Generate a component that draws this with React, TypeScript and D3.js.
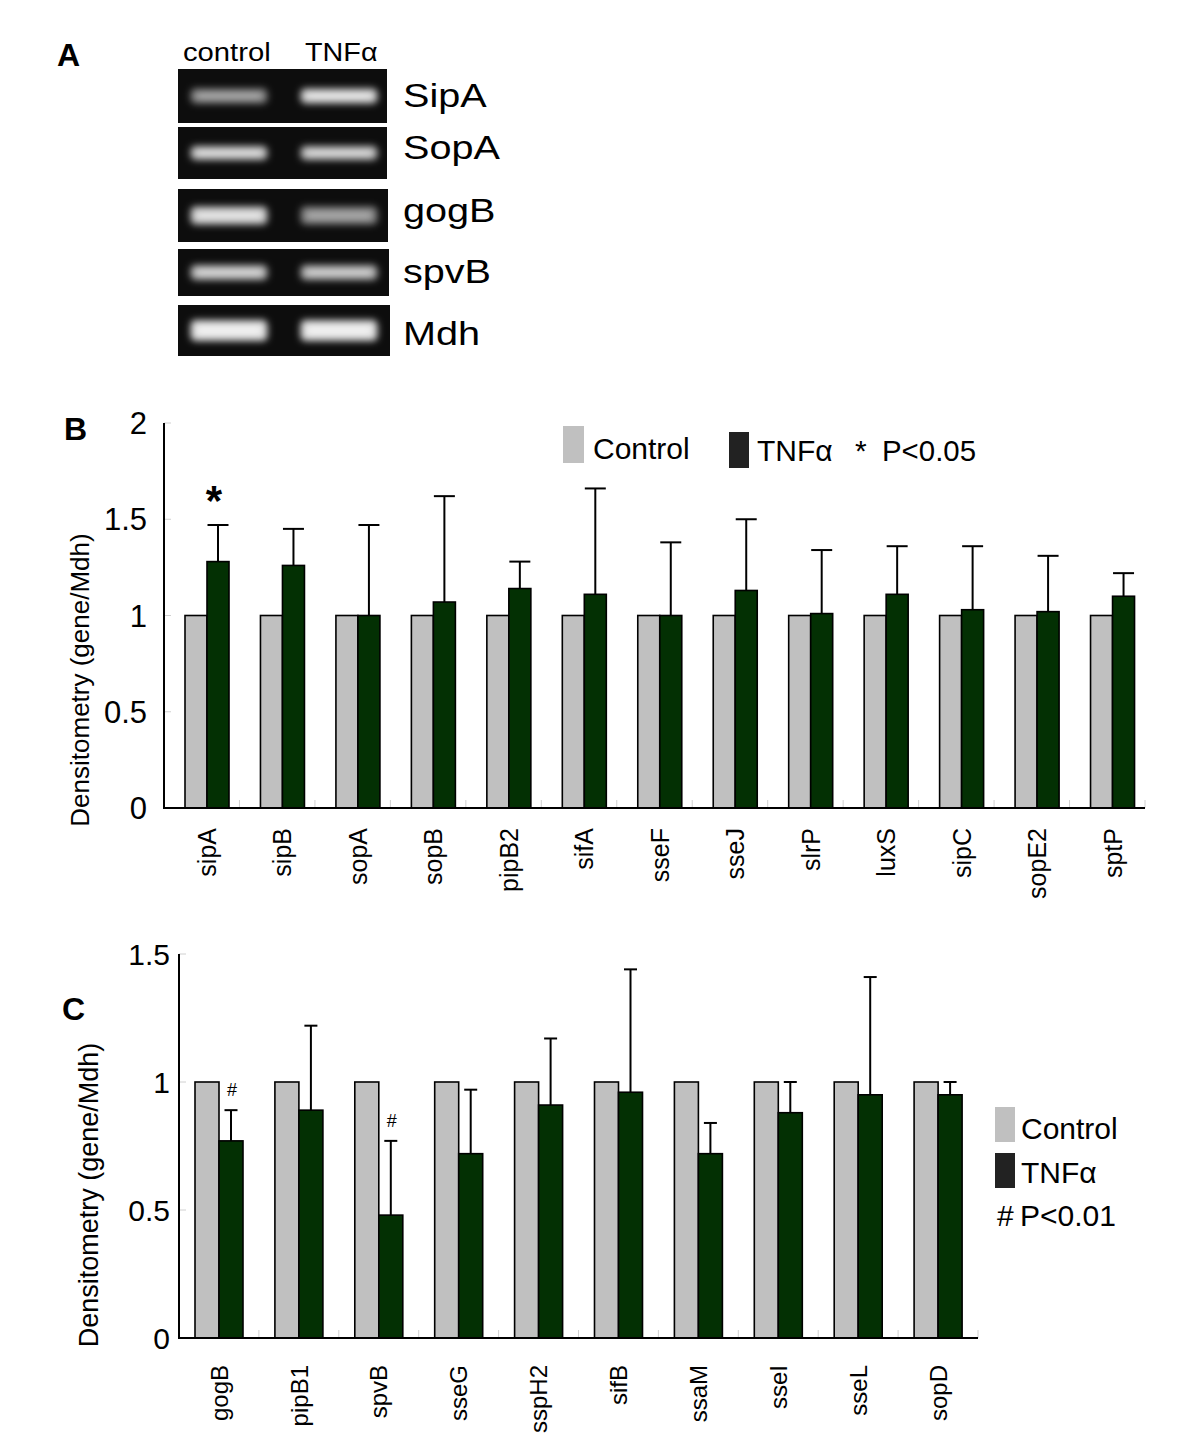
import React from "react";
import * as d3 from "d3";

const genesB = ["sipA","sipB","sopA","sopB","pipB2","sifA","sseF","sseJ","slrP","luxS","sipC","sopE2","sptP"];
const controlB = [1,1,1,1,1,1,1,1,1,1,1,1,1];
const tnfB = [1.28,1.26,1.0,1.07,1.14,1.11,1.0,1.13,1.01,1.11,1.03,1.02,1.10];
const errB = [0.19,0.19,0.47,0.55,0.14,0.55,0.38,0.37,0.33,0.25,0.33,0.29,0.12];
const sigB = ["sipA"];
const ticksB = [0,0.5,1,1.5,2];
const tickLabelsB = ["0","0.5","1","1.5","2"];

const genesC = ["gogB","pipB1","spvB","sseG","sspH2","sifB","ssaM","sseI","sseL","sopD"];
const controlC = [1,1,1,1,1,1,1,1,1,1];
const tnfC = [0.77,0.89,0.48,0.72,0.91,0.96,0.72,0.88,0.95,0.95];
const errC = [0.12,0.33,0.29,0.25,0.26,0.48,0.12,0.12,0.46,0.05];
const sigC = ["gogB","spvB"];
const ticksC = [0,0.5,1,1.5];
const tickLabelsC = ["0","0.5","1","1.5"];

const gelGenes = ["SipA","SopA","gogB","spvB","Mdh"];
const gelControl = [0.55,0.85,0.9,0.8,1.0];
const gelTNF = [0.92,0.82,0.55,0.75,1.0];

const FONT = "'Liberation Sans', Arial, Helvetica, sans-serif";
const GRAY = "#c0c0c0";
const GREEN = "#033003";

type PanelProps = {
  genes: string[]; ctrl: number[]; tnf: number[]; err: number[]; sig: string[]; sigMark: string;
  ticks: number[]; tickLabels: string[]; yMax: number;
  x0: number; x1: number; yTop: number; yBottom: number;
  barOffset: number; barW: number; capW: number; tickGap: number;
  labelFont: number; catFont: number; catTop: number; ylabelX: number; ylabelY: number; ylabelFont: number;
  sigFont: number; sigDy: number; sigDx: number; sigBold: boolean;
};

function BarPanel(p: PanelProps) {
  const x = d3.scaleBand<string>().domain(p.genes).range([p.x0, p.x1]).padding(0);
  const sub = d3.scaleBand<string>().domain(["control","tnf"]).range([p.barOffset, p.barOffset + 2 * p.barW]);
  const y = d3.scaleLinear().domain([0, p.yMax]).range([p.yBottom, p.yTop]);
  return (
    <g>
      {p.genes.map((g, i) => (
        <line key={"mt" + i} x1={(x(g) as number) + x.bandwidth()} x2={(x(g) as number) + x.bandwidth()} y1={y(0)} y2={y(0) - 8} stroke="#d0d0d0" strokeWidth={1} />
      ))}
      {p.ticks.slice(1).map((t, i) => (
        <line key={"yt" + i} x1={p.x0} x2={p.x0 + 7} y1={y(t)} y2={y(t)} stroke="#d0d0d0" strokeWidth={1} />
      ))}
      {p.genes.map((g, i) => {
        const bx = x(g) as number;
        const cx = bx + (sub("control") as number);
        const tx = bx + (sub("tnf") as number);
        const w = sub.bandwidth();
        const errTop = y(p.tnf[i] + p.err[i]);
        const ecx = tx + w / 2;
        return (
          <g key={g}>
            <line x1={ecx} x2={ecx} y1={y(p.tnf[i])} y2={errTop} stroke="#000" strokeWidth={2} />
            <line x1={ecx - p.capW / 2} x2={ecx + p.capW / 2} y1={errTop} y2={errTop} stroke="#000" strokeWidth={2} />
            <rect x={cx} y={y(p.ctrl[i])} width={w} height={y(0) - y(p.ctrl[i])} fill={GRAY} stroke="#000" strokeWidth={1.6} />
            <rect x={tx} y={y(p.tnf[i])} width={w} height={y(0) - y(p.tnf[i])} fill={GREEN} stroke="#000" strokeWidth={1.6} />
            {p.sig.includes(g) && (
              <text x={ecx + p.sigDx} y={errTop - p.sigDy} textAnchor="middle" fontFamily={FONT} fontSize={p.sigFont} fontWeight={p.sigBold ? "bold" : "normal"}>{p.sigMark}</text>
            )}
            <text transform={`translate(${bx + p.barOffset + w},${p.catTop}) rotate(-90)`} textAnchor="end" dy="0.36em" fontFamily={FONT} fontSize={p.catFont}>{g}</text>
          </g>
        );
      })}
      <line x1={p.x0} x2={p.x0} y1={p.yTop} y2={p.yBottom + 1} stroke="#000" strokeWidth={2} />
      <line x1={p.x0 - 1} x2={p.x1} y1={p.yBottom} y2={p.yBottom} stroke="#000" strokeWidth={2} />
      {p.ticks.map((t, i) => (
        <text key={"tl" + i} x={p.x0 - p.tickGap} y={y(t)} dy="0.36em" textAnchor="end" fontFamily={FONT} fontSize={p.labelFont}>{p.tickLabels[i]}</text>
      ))}
      <text transform={`translate(${p.ylabelX},${p.ylabelY}) rotate(-90)`} textAnchor="middle" dy="0.36em" fontFamily={FONT} fontSize={p.ylabelFont}>Densitometry (gene/Mdh)</text>
    </g>
  );
}

function Gel() {
  const rows = [
    { y0: 69, y1: 123, xr: 387, bh: 15 },
    { y0: 127, y1: 179, xr: 387, bh: 14 },
    { y0: 189, y1: 242, xr: 388, bh: 18 },
    { y0: 249, y1: 296, xr: 389, bh: 15 },
    { y0: 305, y1: 356, xr: 390, bh: 21 },
  ];
  const labelY = [107, 159, 222, 283, 345];
  const lanes = d3.scaleBand<string>().domain(["control","tnf"]).range([185, 383]).paddingInner(0.3).paddingOuter(0.05);
  return (
    <g>
      <defs>
        <filter id="blurBand" x="-20%" y="-60%" width="140%" height="220%">
          <feGaussianBlur stdDeviation="3.6" />
        </filter>
      </defs>
      {rows.map((r, i) => {
        const cy = (r.y0 + r.y1) / 2;
        const vals = [gelControl[i], gelTNF[i]];
        return (
          <g key={i}>
            <rect x={178} y={r.y0} width={r.xr - 178} height={r.y1 - r.y0} fill="#0d0d0d" />
            <clipPath id={"gclip" + i}><rect x={178} y={r.y0} width={r.xr - 178} height={r.y1 - r.y0} /></clipPath>
            <g clipPath={`url(#gclip${i})`}>
              {["control","tnf"].map((ln, j) => (
                <g key={ln} filter="url(#blurBand)">
                  <rect x={(lanes(ln) as number)} y={cy - r.bh / 2} width={lanes.bandwidth()} height={r.bh} rx={5} fill="#ffffff" opacity={vals[j] * 0.85} />
                  <rect x={(lanes(ln) as number) + 6} y={cy - r.bh / 4} width={lanes.bandwidth() - 12} height={r.bh / 2} rx={3} fill="#ffffff" opacity={vals[j] * 0.6} />
                </g>
              ))}
            </g>
            <text transform={`translate(403,${labelY[i]}) scale(1.2,1)`} fontFamily={FONT} fontSize={33}>{gelGenes[i]}</text>
          </g>
        );
      })}
      <text transform="translate(183,61) scale(1.17,1)" fontFamily={FONT} fontSize={25}>control</text>
      <text transform="translate(305,61) scale(1.15,1)" fontFamily={FONT} fontSize={25}>TNFα</text>
    </g>
  );
}

export default function App() {
  return (
    <svg width={1200} height={1448} style={{ position: "absolute", left: 0, top: 0, background: "#fff" }}>
      <rect x={0} y={0} width={1200} height={1448} fill="#fff" />
      <text x={57} y={66} fontFamily={FONT} fontSize={32} fontWeight="bold">A</text>
      <text x={64} y={440} fontFamily={FONT} fontSize={32} fontWeight="bold">B</text>
      <text x={62} y={1020} fontFamily={FONT} fontSize={32} fontWeight="bold">C</text>
      <Gel />
      <BarPanel genes={genesB} ctrl={controlB} tnf={tnfB} err={errB} sig={sigB} sigMark="*"
        ticks={ticksB} tickLabels={tickLabelsB} yMax={2}
        x0={164} x1={1145} yTop={423} yBottom={808}
        barOffset={21} barW={22} capW={21} tickGap={17}
        labelFont={31} catFont={25} catTop={828} ylabelX={80} ylabelY={680} ylabelFont={26}
        sigFont={42} sigDy={10} sigDx={-4} sigBold={true} />
      <rect x={563} y={426} width={21} height={37} fill={GRAY} />
      <text x={593} y={459} fontFamily={FONT} fontSize={30}>Control</text>
      <rect x={729} y={432} width={20} height={36} fill="#222" />
      <text x={757} y={461} fontFamily={FONT} fontSize={30}>TNFα</text>
      <text x={855} y={461} fontFamily={FONT} fontSize={30}>*</text>
      <text x={882} y={461} fontFamily={FONT} fontSize={30} textLength={94} lengthAdjust="spacingAndGlyphs">P&lt;0.05</text>
      <BarPanel genes={genesC} ctrl={controlC} tnf={tnfC} err={errC} sig={sigC} sigMark="#"
        ticks={ticksC} tickLabels={tickLabelsC} yMax={1.5}
        x0={179} x1={978} yTop={954} yBottom={1338}
        barOffset={16} barW={24} capW={13} tickGap={9}
        labelFont={30} catFont={24} catTop={1365} ylabelX={88} ylabelY={1195} ylabelFont={27}
        sigFont={18} sigDy={14} sigDx={1} sigBold={false} />
      <rect x={995} y={1107} width={20} height={35} fill={GRAY} />
      <text x={1021} y={1139} fontFamily={FONT} fontSize={30}>Control</text>
      <rect x={995} y={1153} width={20} height={35} fill="#222" />
      <text x={1021} y={1183} fontFamily={FONT} fontSize={30}>TNFα</text>
      <text x={997} y={1226} fontFamily={FONT} fontSize={30}>#</text>
      <text x={1020} y={1226} fontFamily={FONT} fontSize={30} textLength={96} lengthAdjust="spacingAndGlyphs">P&lt;0.01</text>
    </svg>
  );
}
